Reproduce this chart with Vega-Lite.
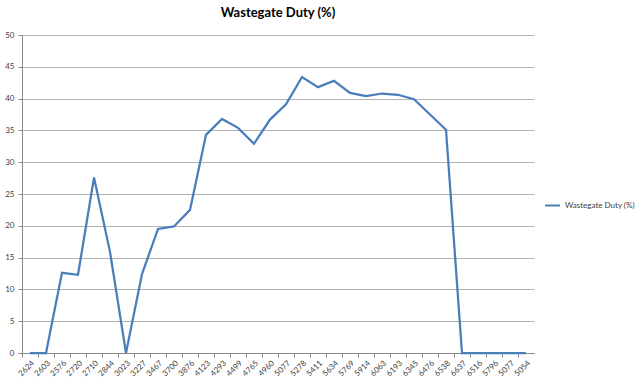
{
  "$schema": "https://vega.github.io/schema/vega-lite/v6.json",
  "autosize": {"type": "none"},
  "width": 512,
  "height": 318,
  "padding": {"left": 22, "top": 35, "right": 106, "bottom": 31},
  "background": "white",
  "title": {"text": "Wastegate Duty (%)", "fontSize": 13, "fontWeight": "bold", "font": "Lato", "color": "#000000", "offset": 11, "anchor": "middle"},
  "config": {
    "font": "Lato",
    "view": {"stroke": null},
    "axis": {"labelFont": "Lato", "labelColor": "#404040", "labelFontSize": 8, "domainColor": "#888888", "tickColor": "#888888", "gridColor": "#b3b3b3", "gridWidth": 1}
  },
  "data": {
    "values": [
      {"idx": 0, "rpm": "2624", "duty": 0},
      {"idx": 1, "rpm": "2603", "duty": 0},
      {"idx": 2, "rpm": "2576", "duty": 12.6},
      {"idx": 3, "rpm": "2720", "duty": 12.3},
      {"idx": 4, "rpm": "2710", "duty": 27.6},
      {"idx": 5, "rpm": "2844", "duty": 15.9},
      {"idx": 6, "rpm": "3023", "duty": 0},
      {"idx": 7, "rpm": "3227", "duty": 12.4},
      {"idx": 8, "rpm": "3467", "duty": 19.5},
      {"idx": 9, "rpm": "3700", "duty": 19.9},
      {"idx": 10, "rpm": "3876", "duty": 22.5},
      {"idx": 11, "rpm": "4123", "duty": 34.3},
      {"idx": 12, "rpm": "4293", "duty": 36.8},
      {"idx": 13, "rpm": "4499", "duty": 35.4},
      {"idx": 14, "rpm": "4765", "duty": 32.9},
      {"idx": 15, "rpm": "4960", "duty": 36.7},
      {"idx": 16, "rpm": "5077", "duty": 39.1},
      {"idx": 17, "rpm": "5278", "duty": 43.4},
      {"idx": 18, "rpm": "5411", "duty": 41.8},
      {"idx": 19, "rpm": "5634", "duty": 42.8},
      {"idx": 20, "rpm": "5769", "duty": 40.9},
      {"idx": 21, "rpm": "5914", "duty": 40.4},
      {"idx": 22, "rpm": "6063", "duty": 40.8},
      {"idx": 23, "rpm": "6193", "duty": 40.6},
      {"idx": 24, "rpm": "6345", "duty": 39.9},
      {"idx": 25, "rpm": "6476", "duty": 37.5},
      {"idx": 26, "rpm": "6538", "duty": 35.1},
      {"idx": 27, "rpm": "6637", "duty": 0},
      {"idx": 28, "rpm": "6516", "duty": 0},
      {"idx": 29, "rpm": "5796", "duty": 0},
      {"idx": 30, "rpm": "5077", "duty": 0},
      {"idx": 31, "rpm": "5054", "duty": 0}
    ]
  },
  "mark": {"type": "line", "strokeWidth": 2.25},
  "encoding": {
    "x": {
      "field": "idx",
      "type": "ordinal",
      "scale": {"type": "point", "padding": 0.5},
      "axis": {
        "title": null,
        "grid": false,
        "labelAngle": -45,
        "labelExpr": "['2624','2603','2576','2720','2710','2844','3023','3227','3467','3700','3876','4123','4293','4499','4765','4960','5077','5278','5411','5634','5769','5914','6063','6193','6345','6476','6538','6637','6516','5796','5077','5054'][datum.value]",
        "tickOffset": -8,
        "labelOffset": 8,
        "tickSize": 4,
        "labelPadding": 2
      }
    },
    "y": {
      "field": "duty",
      "type": "quantitative",
      "scale": {"domain": [0, 50]},
      "axis": {"title": null, "values": [0,5,10,15,20,25,30,35,40,45,50], "tickSize": 4, "labelPadding": 4}
    },
    "color": {
      "datum": "Wastegate Duty (%)",
      "type": "nominal",
      "scale": {"range": ["#4a7ebb"]},
      "legend": {"title": null, "orient": "none", "legendX": 522, "legendY": 162, "symbolType": "stroke", "symbolStrokeWidth": 2, "symbolSize": 220, "labelFontSize": 8, "labelColor": "#404040", "labelFont": "Lato"}
    }
  }
}
